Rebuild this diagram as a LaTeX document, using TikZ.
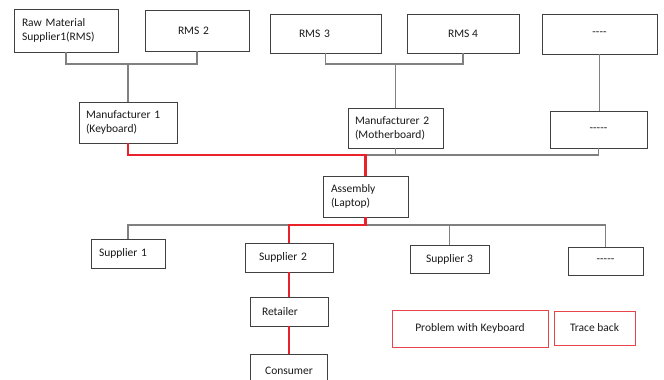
\documentclass[tikz,border=0pt]{standalone}
\usepackage{fontspec}
\setmainfont{Carlito}[Ligatures=TeXOff]
\usepackage{tikz}
\usepackage{xcolor}
\usetikzlibrary{calc, positioning}
\definecolor{boxgray}{HTML}{404040}
\definecolor{linkgray}{HTML}{808080}
\definecolor{textgray}{HTML}{1A1A1A}
\definecolor{tracered}{HTML}{E8212B}
\definecolor{notered}{HTML}{E8444C}
\tikzset{
    box/.style={draw=boxgray, line width=0.9pt, inner sep=0pt, text=textgray,
        font=\fontsize{11.5pt}{14pt}\selectfont},
    notebox/.style={box, draw=notered},
    link/.style={draw=linkgray, line width=1.1pt},
    trace/.style={draw=tracered, line width=2.4pt}
}
\begin{document}
\begin{tikzpicture}[x=1pt, y=-1pt]
                        \clip (0, 0) rectangle (664, 380);
                        \fill[white] (0, 0) rectangle (664, 380);
                        \node[box, minimum width=104, minimum height=43, text width=88, align=left] (rms1) at (66, 30.5) {Raw Material\\Supplier1(RMS)};
                        \node[box, minimum width=104, minimum height=41, text width=38, inner xsep=33, align=left] (rms2) at (197, 30.5) {RMS 2};
                        \node[box, minimum width=111, minimum height=39, text width=53, inner xsep=29, align=left] (rms3) at (325.5, 33.5) {RMS 3};
                        \node[box, minimum width=112, minimum height=39] (rms4) at (463, 33.5) {RMS 4};
                        \node[box, minimum width=115, minimum height=40] (more1) at (599.5, 34) {----};
                        \node[box, minimum width=98, minimum height=41, text width=84, align=left] (man1) at (128, 122.5) {Manufacturer 1\\(Keyboard)};
                        \node[box, minimum width=95, minimum height=40, text width=81, align=left] (man2) at (395.5, 128) {Manufacturer 2\\(Motherboard)};
                        \node[box, minimum width=97, minimum height=37] (more2) at (598.5, 129.5) {-----};
                        \node[box, minimum width=85, minimum height=41, text width=69, align=left] (asm) at (365.5, 196.5) {Assembly\\(Laptop)};
                        \node[box, minimum width=74, minimum height=29, text width=58, inner xsep=8, align=left] (sup1) at (128, 253.5) {Supplier 1};
                        \node[box, minimum width=88, minimum height=29, text width=60, inner xsep=14, align=left] (sup2) at (289, 257.5) {Supplier 2};
                        \node[box, minimum width=79, minimum height=28] (sup3) at (449.5, 259) {Supplier 3};
                        \node[box, minimum width=75, minimum height=28] (more3) at (605.5, 261) {-----};
                        \node[box, minimum width=78, minimum height=29, text width=54, inner xsep=12, align=left] (ret) at (289, 311.5) {Retailer};
                        \node[box, minimum width=77, minimum height=32, anchor=north] (cons) at (289, 354) {Consumer};
                        \node[notebox, minimum width=156, minimum height=37] (prob) at (470, 328.5) {Problem with Keyboard};
                        \node[notebox, minimum width=81, minimum height=34] (back) at (594.5, 328) {Trace back};
                        \coordinate (j1) at (man1.north |- 0, 64);
                        \coordinate (j2) at (man2.north |- 0, 64);
                        \coordinate (j3) at (asm.north |- 0, 155);
                        \coordinate (j4) at (asm.south |- 0, 225);
                        \draw[link]
                        (rms1.south) |- (j1) -| (rms2.south)
                        (j1) -- (man1.north)
                        (rms3.south) |- (j2) -| (rms4.south)
                        (j2) -- (man2.north)
                        (more1.south) -- (more1.south |- more2.north)
                        (man2.south) -- (man2.south |- j3)
                        (j3) -| (more2.south)
                        (sup1.north) |- (more3.north |- j4) -- (more3.north)
                        (sup3.north) -- (sup3.north |- j4);
                        \draw[trace]
                        (man1.south) |- (j3) -- (asm.north)
                        (asm.south) -- (j4) -| (sup2.north)
                        (sup2.south) -- (ret.north)
                        (ret.south) -- (cons.north);
                    \end{tikzpicture}
\end{document}
